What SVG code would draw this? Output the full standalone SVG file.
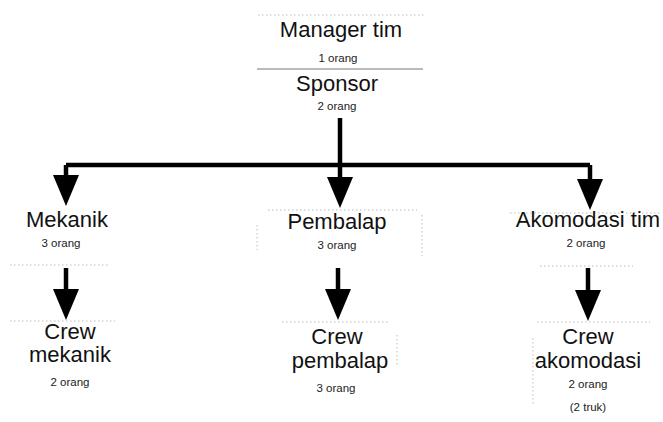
<svg xmlns="http://www.w3.org/2000/svg" width="663" height="422" viewBox="0 0 663 422">
<style>
.t{font-family:"Liberation Sans",Arial,sans-serif;font-size:22px;fill:#111;text-anchor:middle}
.s{font-family:"Liberation Sans",Arial,sans-serif;font-size:11.5px;fill:#222;text-anchor:middle}
.c{stroke:#000;stroke-width:4.5;fill:none}
.d{stroke:#bbb;stroke-width:1;stroke-dasharray:1.5 2.5;fill:none}
.g{stroke:#777;stroke-width:1;fill:none}
</style>
<defs>
<marker id="ah" markerUnits="userSpaceOnUse" viewBox="0 -14 32 28" markerWidth="32" markerHeight="28" refX="21" refY="0" orient="auto">
<path d="M0,-13 L31,0 L0,13 Z" fill="#000"/>
</marker>
</defs>
<g id="borders">
<path class="d" d="M258,15 H425"/>
<path class="g" d="M257,69 H423"/>
<path class="d" d="M268,210 H417 M257,225 V250 M422,215 V256"/>
<path class="d" d="M10,265 H110 M10,321 H115"/>
<path class="d" d="M510,213 H660 M540,266 H633 M537,322 H650 M533,338 V405"/>
<path class="d" d="M282,322 H388 M397,335 V365"/>
</g>
<g id="connectors">
<path class="c" d="M66,165 H590"/>
<path class="c" d="M340,118 V198" marker-end="url(#ah)"/>
<path class="c" d="M66,165 V196" marker-end="url(#ah)"/>
<path class="c" d="M590,165 V200" marker-end="url(#ah)"/>
<path class="c" d="M66,268 V310" marker-end="url(#ah)"/>
<path class="c" d="M338,268 V310" marker-end="url(#ah)"/>
<path class="c" d="M588,268 V311" marker-end="url(#ah)"/>
</g>
<g id="manager">
<text class="t" x="341" y="37">Manager tim</text>
<text class="s" x="338" y="62">1 orang</text>
</g>
<g id="sponsor">
<text class="t" x="337" y="91">Sponsor</text>
<text class="s" x="337" y="110">2 orang</text>
</g>
<g id="mekanik">
<text class="t" x="67" y="227">Mekanik</text>
<text class="s" x="61" y="247">3 orang</text>
</g>
<g id="pembalap">
<text class="t" x="337" y="229">Pembalap</text>
<text class="s" x="337" y="249">3 orang</text>
</g>
<g id="akomodasi">
<text class="t" x="588" y="227">Akomodasi tim</text>
<text class="s" x="586" y="247">2 orang</text>
</g>
<g id="crew-mekanik">
<text class="t" x="70" y="339">Crew</text>
<text class="t" x="70" y="362">mekanik</text>
<text class="s" x="70" y="386">2 orang</text>
</g>
<g id="crew-pembalap">
<text class="t" x="337" y="344">Crew</text>
<text class="t" x="340" y="368">pembalap</text>
<text class="s" x="336" y="392">3 orang</text>
</g>
<g id="crew-akomodasi">
<text class="t" x="588" y="344">Crew</text>
<text class="t" x="588" y="368">akomodasi</text>
<text class="s" x="588" y="388">2 orang</text>
<text class="s" x="588" y="411">(2 truk)</text>
</g>
</svg>
